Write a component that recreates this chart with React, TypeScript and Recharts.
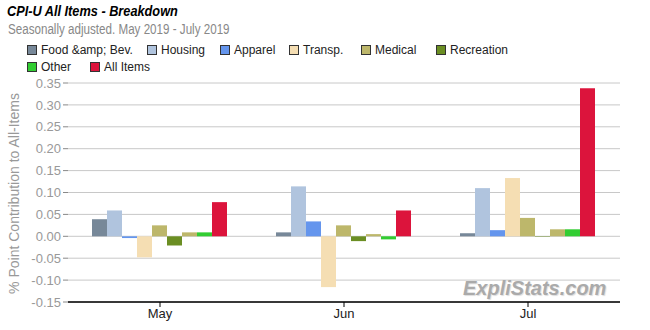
import React from "react";
import {
  BarChart,
  Bar,
  XAxis,
  YAxis,
  CartesianGrid,
  ReferenceLine,
} from "recharts";

const months = ["May", "Jun", "Jul"];

const foodBev = [0.039, 0.009, 0.007];
const housing = [0.059, 0.114, 0.11];
const apparel = [-0.004, 0.034, 0.014];
const transp = [-0.048, -0.116, 0.133];
const medical = [0.025, 0.025, 0.042];
const recreation = [-0.021, -0.011, -0.001];
const educComm = [0.009, 0.005, 0.016];
const other = [0.009, -0.007, 0.016];
const allItems = [0.078, 0.059, 0.338];

const yTicks = [-0.15, -0.1, -0.05, 0, 0.05, 0.1, 0.15, 0.2, 0.25, 0.3, 0.35];

const series = [
  { key: "food", name: "Food &amp; Bev.", values: foodBev, color: "#778899", legend: true },
  { key: "housing", name: "Housing", values: housing, color: "#B0C4DE", legend: true },
  { key: "apparel", name: "Apparel", values: apparel, color: "#6495ED", legend: true },
  { key: "transp", name: "Transp.", values: transp, color: "#F5DEB3", legend: true },
  { key: "medical", name: "Medical", values: medical, color: "#BDB76B", legend: true },
  { key: "recreation", name: "Recreation", values: recreation, color: "#6B8E23", legend: true },
  { key: "educ", name: "Educ. & Comm.", values: educComm, color: "#BDB76B", legend: false },
  { key: "other", name: "Other", values: other, color: "#32CD32", legend: true },
  { key: "all", name: "All Items", values: allItems, color: "#DC143C", legend: true },
];

const data = months.map((m, i) => {
  const row: Record<string, any> = { month: m };
  series.forEach((s) => {
    row[s.key] = s.values[i];
  });
  return row;
});

// legend item offsets, two rows like the original
const legendRows = [
  [0, 120, 193, 262, 334, 409],
  [0, 63],
];

const FONT = "'Liberation Sans', Arial, sans-serif";

const LegendBox = () => {
  const items = series.filter((s) => s.legend);
  const row = (list: typeof items, offsets: number[], top: number) =>
    list.map((s, i) => (
      <div
        key={s.key}
        style={{
          position: "absolute",
          left: offsets[i],
          top,
          display: "flex",
          alignItems: "center",
          whiteSpace: "nowrap",
        }}
      >
        <span
          style={{
            display: "inline-block",
            width: 8,
            height: 8,
            background: s.color,
            border: "1px solid #333",
            marginRight: 4,
          }}
        />
        <span style={{ fontSize: 12, color: "#222" }}>{s.name}</span>
      </div>
    ));
  return (
    <div style={{ position: "absolute", left: 27, top: 43, width: 600, height: 36 }}>
      {row(items.slice(0, 6), legendRows[0], 0)}
      {row(items.slice(6), legendRows[1], 17)}
    </div>
  );
};

const YLabel = (props: any) => {
  const vb = props.viewBox || {};
  const cy = (vb.y ?? 83) + (vb.height ?? 219) / 2 + 1;
  return (
    <text
      x={14}
      y={cy}
      transform={`rotate(-90, 14, ${cy})`}
      textAnchor="middle"
      dominantBaseline="central"
      fill="#999"
      fontSize={14}
      fontFamily={FONT}
    >
      % Point Contribution to All-Items
    </text>
  );
};

export default function App() {
  return (
    <div
      style={{
        position: "absolute",
        left: 0,
        top: 0,
        width: 650,
        height: 330,
        background: "#fff",
        fontFamily: FONT,
      }}
    >
      <div
        style={{
          position: "absolute",
          left: 7,
          top: 3,
          fontSize: 14,
          fontWeight: "bold",
          fontStyle: "italic",
          color: "#000",
          transform: "scaleX(0.91)",
          transformOrigin: "left",
          whiteSpace: "nowrap",
        }}
      >
        CPI-U All Items - Breakdown
      </div>
      <div
        style={{
          position: "absolute",
          left: 8,
          top: 21,
          fontSize: 14,
          color: "#888",
          transform: "scaleX(0.83)",
          transformOrigin: "left",
          whiteSpace: "nowrap",
        }}
      >
        Seasonally adjusted. May 2019 - July 2019
      </div>
      <LegendBox />
      <BarChart
        width={650}
        height={330}
        data={data}
        margin={{ top: 83, right: 30, bottom: 3, left: 8 }}
        barCategoryGap={24}
        barGap={0}
      >
        <CartesianGrid vertical={false} stroke="#c8c8c8" strokeWidth={1} />
        <XAxis
          dataKey="month"
          height={25}
          axisLine={{ stroke: "#000" }}
          tickLine={{ stroke: "#000" }}
          tickSize={5}
          tick={{ fill: "#222", fontSize: 13, fontFamily: FONT }}
        />
        <YAxis
          width={60}
          domain={[-0.15, 0.35]}
          ticks={yTicks}
          interval={0}
          axisLine={false}
          tickLine={{ stroke: "#888" }}
          tickSize={5}
          tickFormatter={(v: number) => v.toFixed(2)}
          tick={{ fill: "#999", fontSize: 13, fontFamily: FONT }}
          label={<YLabel />}
        />
        <ReferenceLine y={-0.15} stroke="#000" />
        {series.map((s) => (
          <Bar
            key={s.key}
            dataKey={s.key}
            name={s.name}
            fill={s.color}
            legendType={s.legend ? "square" : "none"}
            isAnimationActive={false}
          />
        ))}
      </BarChart>
      <div
        style={{
          position: "absolute",
          left: 463,
          top: 277,
          fontSize: 20,
          fontWeight: "bold",
          fontStyle: "italic",
          color: "#aaa",
          textShadow: "1px 1px 1px #ddd",
        }}
      >
        ExpliStats.com
      </div>
    </div>
  );
}
